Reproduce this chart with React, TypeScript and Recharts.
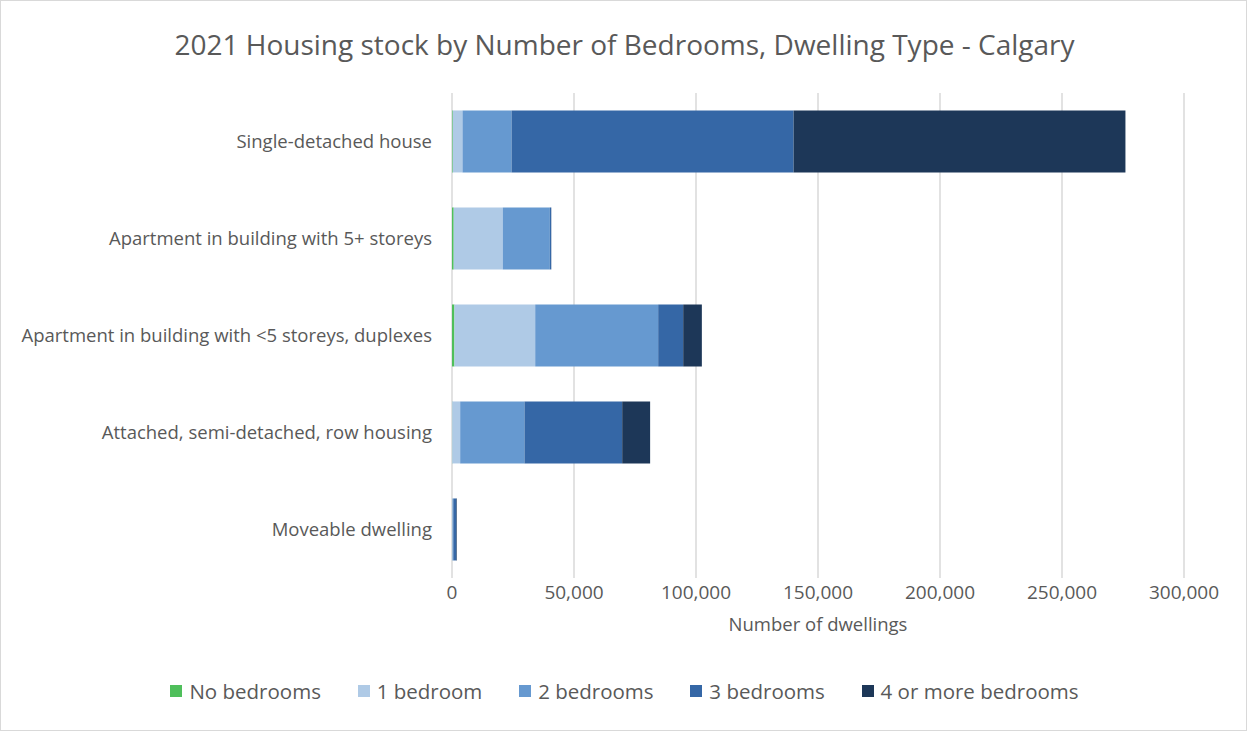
import { BarChart, Bar, XAxis, YAxis, CartesianGrid, Legend } from 'recharts';

// dwelling types, top to bottom
const dwellingTypes = [
    'Single-detached house',
    'Apartment in building with 5+ storeys',
    'Apartment in building with <5 storeys, duplexes',
    'Attached, semi-detached, row housing',
    'Moveable dwelling',
];

// counts per bedroom group (approx.)
const noBedrooms = [300, 700, 1000, 100, 30];
const oneBedroom = [4000, 20100, 33100, 3250, 200];
const twoBedrooms = [20100, 19300, 50400, 26350, 300];
const threeBedrooms = [115600, 550, 10250, 40050, 1300];
const fourPlusBedrooms = [136000, 50, 7650, 11450, 200];

const xTicks = [0, 50000, 100000, 150000, 200000, 250000, 300000];

const seriesList = [
    { key: 'none', name: 'No bedrooms', color: '#4fbf5b', values: noBedrooms },
    { key: 'one', name: '1 bedroom', color: '#afcae6', values: oneBedroom },
    { key: 'two', name: '2 bedrooms', color: '#6699d0', values: twoBedrooms },
    { key: 'three', name: '3 bedrooms', color: '#3567a6', values: threeBedrooms },
    { key: 'four', name: '4 or more bedrooms', color: '#1d3758', values: fourPlusBedrooms },
];

const data = dwellingTypes.map((type, i) => {
    const row: Record<string, string | number> = { type };
    seriesList.forEach(s => { row[s.key] = s.values[i]; });
    return row;
});

const FONT = '"Open Sans", sans-serif';
const TEXT = '#595959';

const LegendRow = () => (
    <div style={{ display: 'flex', justifyContent: 'center', fontFamily: FONT, fontSize: 20.5, color: TEXT }}>
        {seriesList.map(s => (
            <div key={s.key} style={{ display: 'flex', alignItems: 'center', margin: '0 18.4px' }}>
                <span style={{ width: 12, height: 12, background: s.color, marginRight: 7, display: 'inline-block' }} />
                <span>{s.name}</span>
            </div>
        ))}
    </div>
);

export default function App() {
    return (
        <div style={{ position: 'absolute', left: 0, top: 0, width: 1249, height: 733, background: '#fff' }}>
            <div style={{ position: 'absolute', left: 0, top: 0, width: 1245, height: 729, border: '1px solid #d9d9d9' }} />
            <div style={{ position: 'absolute', top: 25, width: 1249, textAlign: 'center', fontFamily: FONT, fontSize: 28, color: TEXT, lineHeight: '38px' }}>
                2021 Housing stock by Number of Bedrooms, Dwelling Type - Calgary
            </div>
            <BarChart
                width={1249}
                height={733}
                data={data}
                layout="vertical"
                barCategoryGap="18%"
                margin={{ top: 93, right: 65, bottom: 95, left: 0 }}
            >
                <CartesianGrid horizontal={false} stroke="#d9d9d9" strokeWidth={1.5} />
                <XAxis
                    type="number"
                    domain={[0, 300000]}
                    ticks={xTicks}
                    height={60}
                    axisLine={false}
                    tickLine={false}
                    tick={{ fill: TEXT, fontSize: 19, fontFamily: FONT }}
                    tickFormatter={(v: number) => v.toLocaleString('en-US')}
                    label={{ value: 'Number of dwellings', position: 'insideBottom', offset: 7, fill: TEXT, fontSize: 18.5, fontFamily: FONT }}
                />
                <YAxis
                    type="category"
                    dataKey="type"
                    width={452}
                    axisLine={false}
                    tickLine={false}
                    tickMargin={14}
                    tick={{ fill: TEXT, fontSize: 18.5, fontFamily: FONT }}
                />
                {seriesList.map(s => (
                    <Bar key={s.key} dataKey={s.key} name={s.name} stackId="a" fill={s.color} isAnimationActive={false} />
                ))}
                <Legend verticalAlign="middle" align="center" content={() => <LegendRow />} wrapperStyle={{ top: 677, left: 0, width: 1249 }} />
            </BarChart>
        </div>
    );
}
